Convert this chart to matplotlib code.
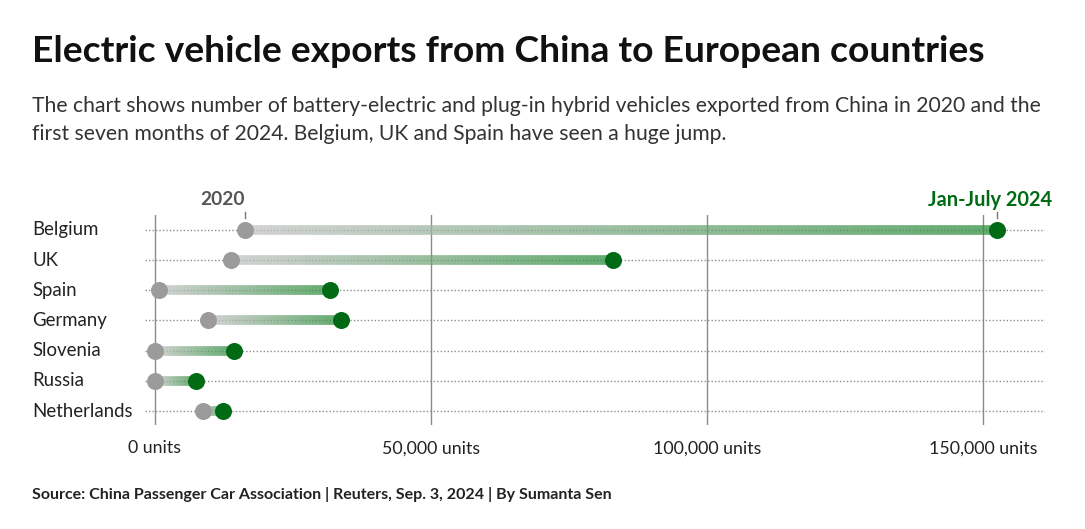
import matplotlib
matplotlib.use("Agg")
import matplotlib.pyplot as plt
import numpy as np
from matplotlib.collections import LineCollection
from matplotlib.colors import to_rgb
import matplotlib.transforms as mtrans

countries = ["Belgium", "UK", "Spain", "Germany", "Slovenia", "Russia", "Netherlands"]
v2020 = [16300, 13800, 700, 9600, 0, 0, 8700]
v2024 = [152500, 83000, 31700, 33700, 14300, 7400, 12300]
xticks = [0, 50000, 100000, 150000]
xticklabels = ["0 units", "50,000 units", "100,000 units", "150,000 units"]

title = "Electric vehicle exports from China to European countries"
subtitle = ("The chart shows number of battery-electric and plug-in hybrid vehicles exported from China in 2020 and the\n"
            "first seven months of 2024. Belgium, UK and Spain have seen a huge jump.")
source = "Source: China Passenger Car Association | Reuters, Sep. 3, 2024 | By Sumanta Sen"

FONT = "Lato"
plt.rcParams['font.family'] = [FONT, 'DejaVu Sans']

W, H = 1085, 529
fig = plt.figure(figsize=(W / 100, H / 100), dpi=100)
ax = fig.add_axes([145 / W, 1 - 425 / H, 900 / W, 210 / H])

px_per_unit = 276 / 50000
ax.set_xlim(-10 / px_per_unit, 890 / px_per_unit)
ax.set_ylim(6 + 14 / 30.17, -15 / 30.17)

for s in ax.spines.values():
    s.set_visible(False)
ax.set_yticks([])
ax.set_xticks(xticks)
ax.set_xticklabels(xticklabels, fontsize=12.8, color="#222222")
ax.tick_params(axis="x", length=0, pad=11)
for x in xticks:
    ax.axvline(x, color="#8a8a8a", lw=1.0, zorder=1)

gray = np.array(to_rgb("#c4c4c4"))
green = np.array(to_rgb("#2f8f3f"))
for i, (a, b) in enumerate(zip(v2020, v2024)):
    ax.axhline(i, color="#8c8c8c", lw=1.0, ls=(0, (1, 1.5)), zorder=2)
    n = 100
    xs = np.linspace(a, b, n + 1)
    segs = [[(xs[k], i), (xs[k + 1], i)] for k in range(n)]
    t = np.linspace(0, 1, n)
    cols = [(*(gray * (1 - tt) + green * tt), 0.75) for tt in t]
    lc = LineCollection(segs, colors=cols, linewidths=7, capstyle="butt", zorder=3)
    ax.add_collection(lc)
    ax.scatter([a], [i], s=150, color="#9b9b9b", zorder=4, linewidths=0)
    ax.scatter([b], [i], s=150, color="#006b14", zorder=5, linewidths=0)

fig_trans = mtrans.blended_transform_factory(fig.transFigure, ax.transData)
for i, c in enumerate(countries):
    ax.text(32 / W, i, c, transform=fig_trans, ha="left", va="center",
            fontsize=13.4, color="#222222")

# header labels
ax.annotate("2020", xy=(v2020[0], -0.5), xytext=(0, 15), textcoords="offset pixels",
            ha="right", va="center", fontsize=13.8, fontweight="bold", color="#555555",
            annotation_clip=False)
ax.annotate("Jan-July 2024", xy=(v2024[0], -0.5), xytext=(-7, 15), textcoords="offset pixels",
            ha="center", va="center", fontsize=14.4, fontweight="bold", color="#006b14",
            annotation_clip=False)
for x in (v2020[0], v2024[0]):
    ax.plot([x, x], [-0.6, -0.4], color="#777777", lw=1, clip_on=False, zorder=2)

fig.text(32 / W, 1 - 52 / H, title, ha="left", va="center", fontsize=26.8,
         fontweight="bold", color="#111111")
fig.text(32 / W, 1 - 120 / H, subtitle, ha="left", va="center", fontsize=15.2,
         color="#333333", linespacing=1.45)
fig.text(32 / W, 1 - 495 / H, source, ha="left", va="center", fontsize=11.5,
         fontweight="bold", color="#222222")

fig.savefig("out.png", dpi=100, facecolor="white")
